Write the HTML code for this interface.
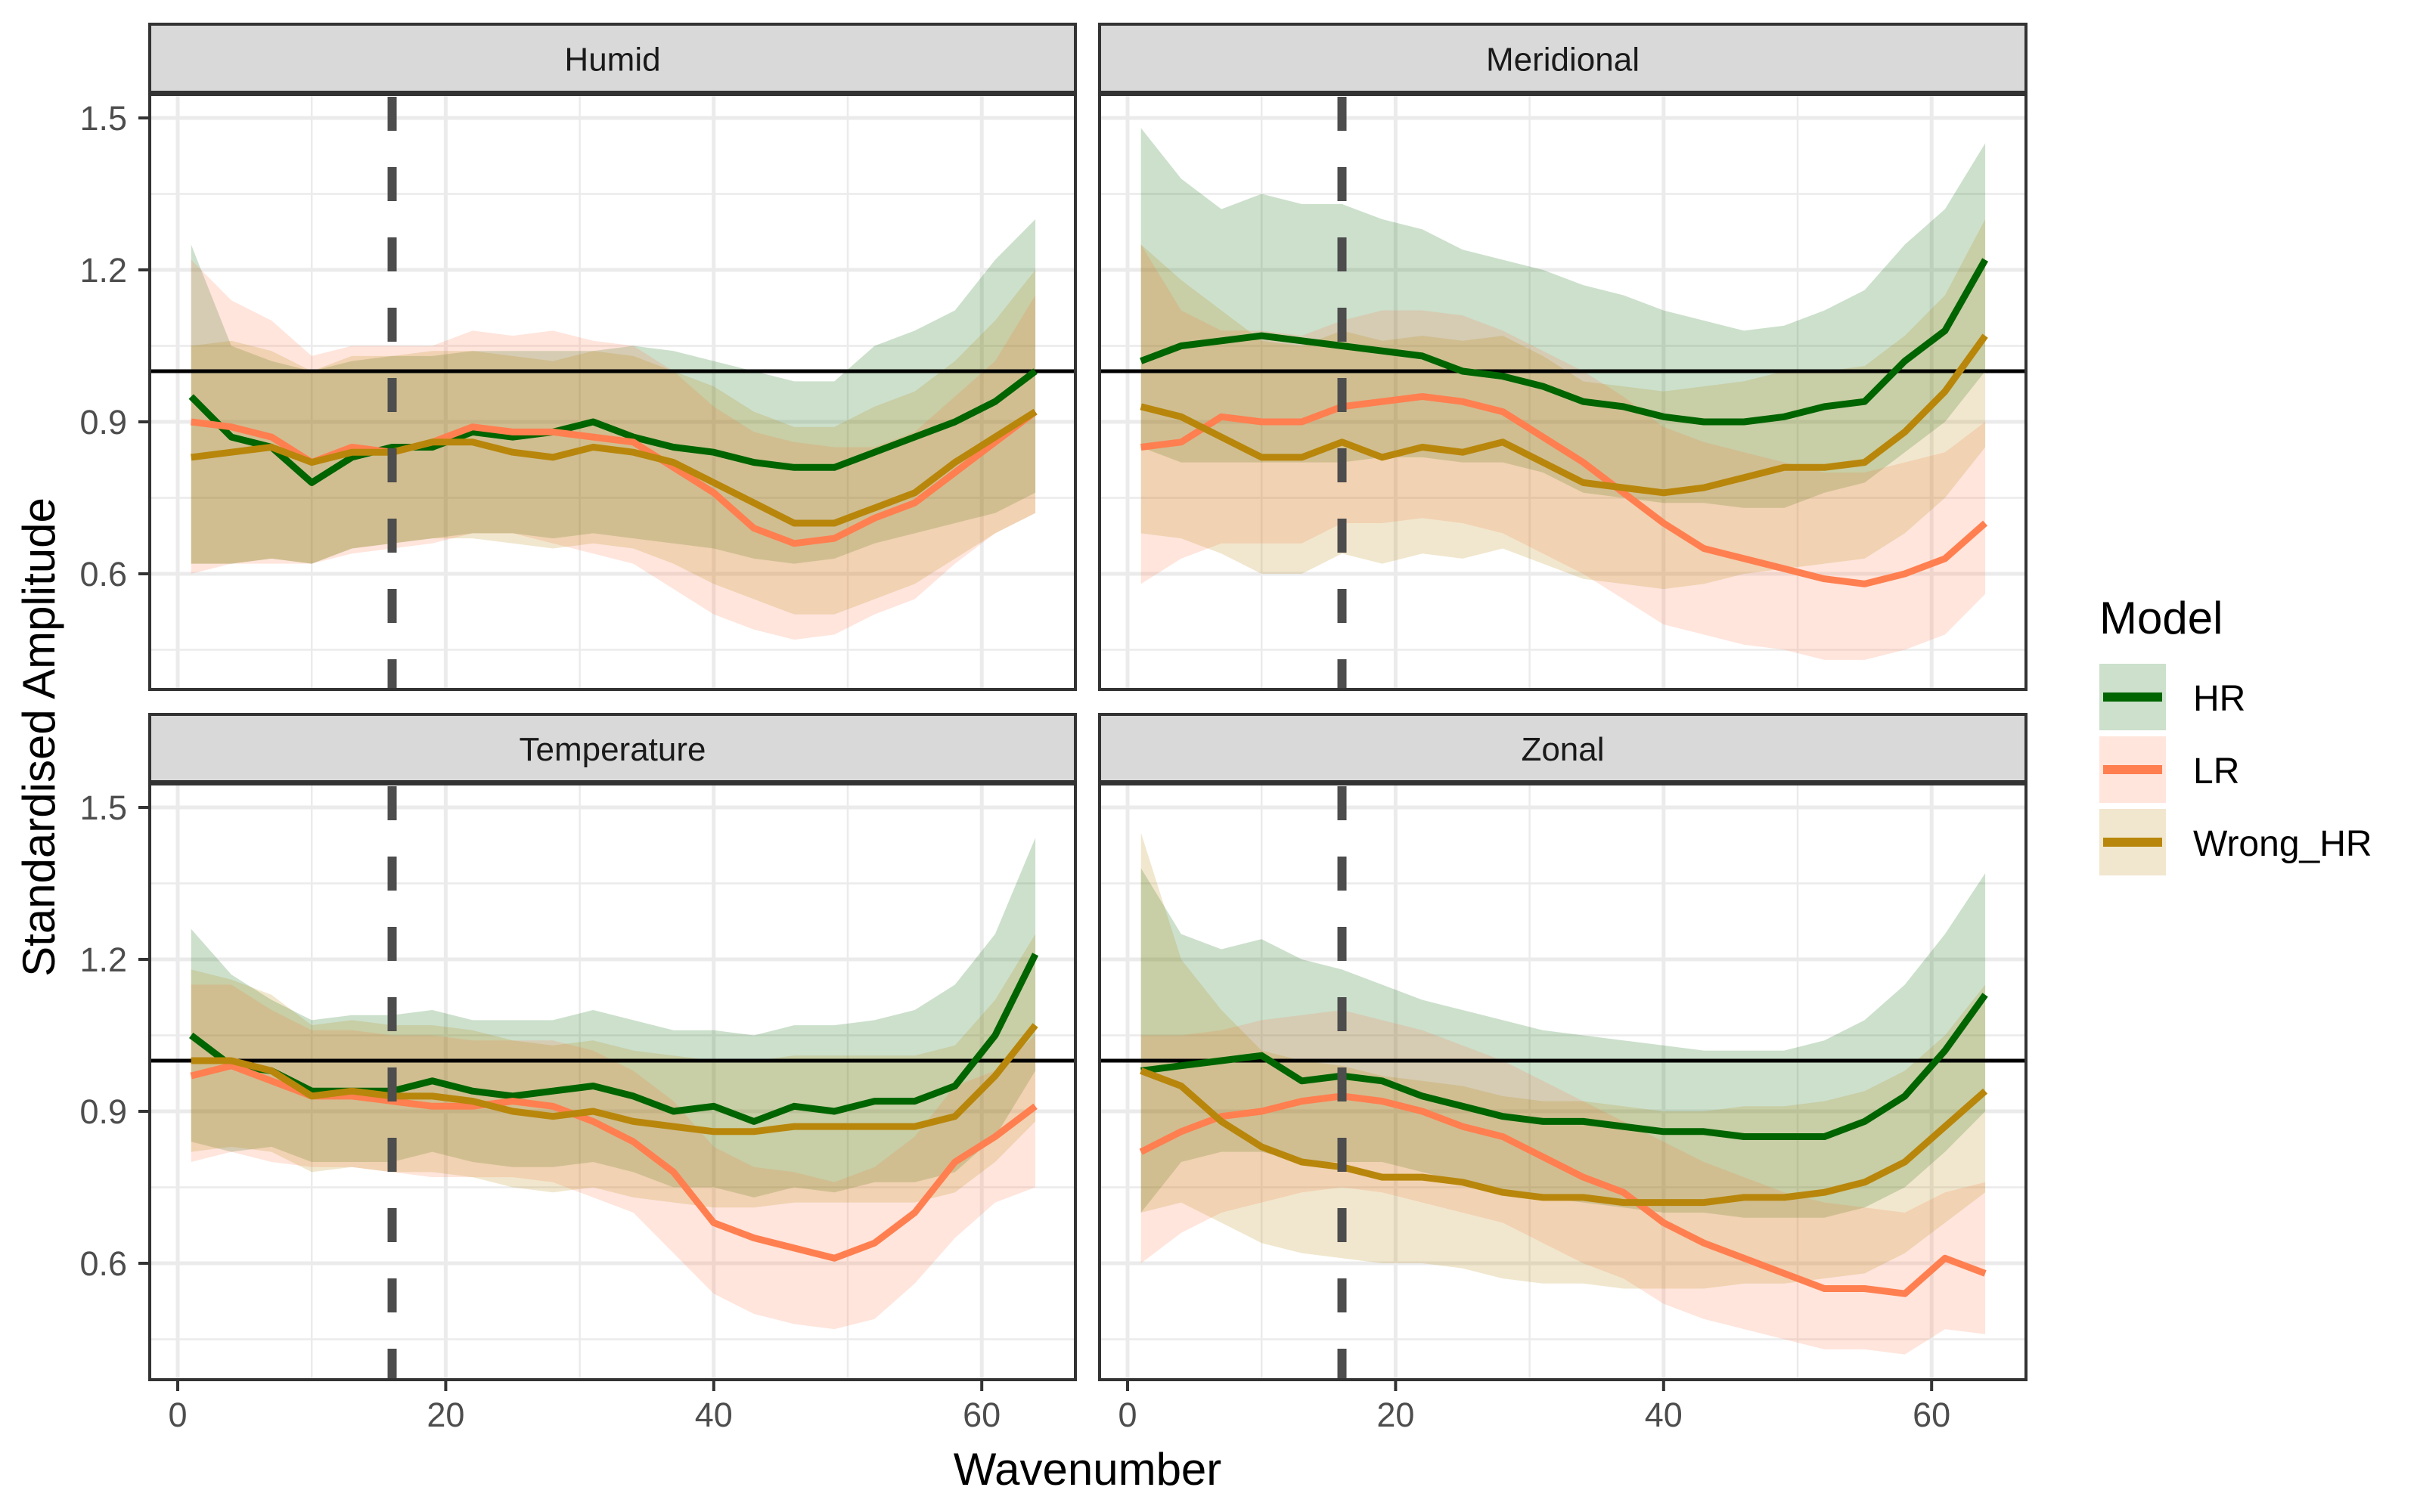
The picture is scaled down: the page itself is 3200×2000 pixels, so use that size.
<!DOCTYPE html>
<html><head><meta charset="utf-8"><style>html,body{margin:0;padding:0;background:#fff}svg{display:block}</style></head>
<body>
<svg id="chart" width="3200" height="2000" viewBox="0 0 3200 2000" xmlns="http://www.w3.org/2000/svg" font-family="Liberation Sans, sans-serif"></svg>
<script>
const waves = [1,4,7,10,13,16,19,22,25,28,31,34,37,40,43,46,49,52,55,58,61,64];
const panelNames = ["Humid","Meridional","Temperature","Zonal"];
const seriesNames = ["HR","LR","Wrong_HR"];
const yTicks = [0.6,0.9,1.2,1.5];
const yTickLabels = ["0.6","0.9","1.2","1.5"];
const xTicks = [0,20,40,60];
const xTickLabels = ["0","20","40","60"];
const cutoffWave = 16;
const refLevel = 1.0;

const humidHR = [0.95,0.87,0.85,0.78,0.83,0.85,0.85,0.88,0.87,0.88,0.90,0.87,0.85,0.84,0.82,0.81,0.81,0.84,0.87,0.90,0.94,1.00];
const humidLR = [0.90,0.89,0.87,0.82,0.85,0.84,0.86,0.89,0.88,0.88,0.87,0.86,0.81,0.76,0.69,0.66,0.67,0.71,0.74,0.80,0.86,0.92];
const humidW  = [0.83,0.84,0.85,0.82,0.84,0.84,0.86,0.86,0.84,0.83,0.85,0.84,0.82,0.78,0.74,0.70,0.70,0.73,0.76,0.82,0.87,0.92];
const humidHRhi = [1.25,1.05,1.02,1.00,1.02,1.03,1.03,1.04,1.04,1.04,1.04,1.05,1.04,1.02,1.00,0.98,0.98,1.05,1.08,1.12,1.22,1.30];
const humidHRlo = [0.62,0.62,0.63,0.62,0.65,0.66,0.67,0.68,0.68,0.67,0.68,0.67,0.66,0.65,0.63,0.62,0.63,0.66,0.68,0.70,0.72,0.76];
const humidLRhi = [1.22,1.14,1.10,1.03,1.05,1.05,1.05,1.08,1.07,1.08,1.06,1.05,1.00,0.93,0.88,0.86,0.85,0.85,0.88,0.95,1.02,1.15];
const humidLRlo = [0.60,0.62,0.62,0.62,0.64,0.65,0.66,0.68,0.68,0.66,0.64,0.62,0.57,0.52,0.49,0.47,0.48,0.52,0.55,0.62,0.68,0.72];
const humidWhi  = [1.05,1.06,1.04,1.00,1.03,1.03,1.04,1.04,1.03,1.02,1.04,1.03,1.00,0.97,0.92,0.89,0.89,0.93,0.96,1.02,1.10,1.20];
const humidWlo  = [0.62,0.62,0.63,0.62,0.65,0.66,0.67,0.67,0.66,0.65,0.66,0.65,0.62,0.58,0.55,0.52,0.52,0.55,0.58,0.63,0.68,0.72];

const merHR = [1.02,1.05,1.06,1.07,1.06,1.05,1.04,1.03,1.00,0.99,0.97,0.94,0.93,0.91,0.90,0.90,0.91,0.93,0.94,1.02,1.08,1.22];
const merLR = [0.85,0.86,0.91,0.90,0.90,0.93,0.94,0.95,0.94,0.92,0.87,0.82,0.76,0.70,0.65,0.63,0.61,0.59,0.58,0.60,0.63,0.70];
const merW  = [0.93,0.91,0.87,0.83,0.83,0.86,0.83,0.85,0.84,0.86,0.82,0.78,0.77,0.76,0.77,0.79,0.81,0.81,0.82,0.88,0.96,1.07];
const merHRhi = [1.48,1.38,1.32,1.35,1.33,1.33,1.30,1.28,1.24,1.22,1.20,1.17,1.15,1.12,1.10,1.08,1.09,1.12,1.16,1.25,1.32,1.45];
const merHRlo = [0.85,0.82,0.82,0.82,0.82,0.82,0.83,0.83,0.82,0.82,0.80,0.76,0.75,0.74,0.74,0.73,0.73,0.76,0.78,0.84,0.90,1.00];
const merLRhi = [1.25,1.12,1.08,1.08,1.07,1.10,1.12,1.12,1.11,1.08,1.04,1.00,0.95,0.89,0.86,0.84,0.82,0.80,0.80,0.82,0.84,0.90];
const merLRlo = [0.58,0.63,0.66,0.66,0.66,0.70,0.70,0.71,0.70,0.68,0.64,0.60,0.55,0.50,0.48,0.46,0.45,0.43,0.43,0.45,0.48,0.56];
const merWhi  = [1.25,1.18,1.12,1.06,1.05,1.08,1.06,1.07,1.06,1.07,1.03,0.98,0.97,0.96,0.97,0.98,1.00,1.00,1.01,1.07,1.15,1.30];
const merWlo  = [0.68,0.67,0.64,0.60,0.60,0.64,0.62,0.64,0.63,0.65,0.62,0.59,0.58,0.57,0.58,0.60,0.61,0.62,0.63,0.68,0.75,0.85];

const tempHR = [1.05,0.99,0.98,0.94,0.94,0.94,0.96,0.94,0.93,0.94,0.95,0.93,0.90,0.91,0.88,0.91,0.90,0.92,0.92,0.95,1.05,1.21];
const tempLR = [0.97,0.99,0.96,0.93,0.93,0.92,0.91,0.91,0.92,0.91,0.88,0.84,0.78,0.68,0.65,0.63,0.61,0.64,0.70,0.80,0.85,0.91];
const tempW  = [1.00,1.00,0.98,0.93,0.94,0.93,0.93,0.92,0.90,0.89,0.90,0.88,0.87,0.86,0.86,0.87,0.87,0.87,0.87,0.89,0.97,1.07];
const tempHRhi = [1.26,1.17,1.12,1.08,1.09,1.09,1.10,1.08,1.08,1.08,1.10,1.08,1.06,1.06,1.05,1.07,1.07,1.08,1.10,1.15,1.25,1.44];
const tempHRlo = [0.84,0.82,0.83,0.80,0.80,0.80,0.82,0.80,0.79,0.79,0.80,0.78,0.75,0.75,0.73,0.75,0.74,0.76,0.76,0.78,0.85,0.98];
const tempLRhi = [1.15,1.15,1.10,1.06,1.06,1.05,1.05,1.04,1.04,1.04,1.02,0.98,0.92,0.83,0.79,0.78,0.76,0.79,0.85,0.95,0.98,1.05];
const tempLRlo = [0.80,0.82,0.80,0.79,0.79,0.78,0.77,0.77,0.77,0.76,0.73,0.70,0.62,0.54,0.50,0.48,0.47,0.49,0.56,0.65,0.72,0.75];
const tempWhi  = [1.18,1.16,1.13,1.07,1.08,1.07,1.07,1.06,1.04,1.03,1.04,1.02,1.01,1.00,1.00,1.01,1.01,1.01,1.01,1.03,1.12,1.25];
const tempWlo  = [0.82,0.83,0.82,0.78,0.79,0.78,0.78,0.77,0.75,0.74,0.75,0.73,0.72,0.71,0.71,0.72,0.72,0.72,0.72,0.74,0.80,0.88];

const zonHR = [0.98,0.99,1.00,1.01,0.96,0.97,0.96,0.93,0.91,0.89,0.88,0.88,0.87,0.86,0.86,0.85,0.85,0.85,0.88,0.93,1.02,1.13];
const zonLR = [0.82,0.86,0.89,0.90,0.92,0.93,0.92,0.90,0.87,0.85,0.81,0.77,0.74,0.68,0.64,0.61,0.58,0.55,0.55,0.54,0.61,0.58];
const zonW  = [0.98,0.95,0.88,0.83,0.80,0.79,0.77,0.77,0.76,0.74,0.73,0.73,0.72,0.72,0.72,0.73,0.73,0.74,0.76,0.80,0.87,0.94];
const zonHRhi = [1.38,1.25,1.22,1.24,1.20,1.18,1.15,1.12,1.10,1.08,1.06,1.05,1.04,1.03,1.02,1.02,1.02,1.04,1.08,1.15,1.25,1.37];
const zonHRlo = [0.70,0.80,0.82,0.82,0.80,0.80,0.80,0.78,0.76,0.74,0.73,0.72,0.71,0.70,0.70,0.69,0.69,0.69,0.71,0.75,0.82,0.90];
const zonLRhi = [1.05,1.05,1.06,1.08,1.09,1.10,1.08,1.06,1.03,1.00,0.96,0.92,0.88,0.84,0.80,0.77,0.74,0.72,0.71,0.70,0.74,0.76];
const zonLRlo = [0.60,0.66,0.70,0.72,0.74,0.75,0.74,0.72,0.70,0.68,0.64,0.60,0.57,0.52,0.49,0.47,0.45,0.43,0.43,0.42,0.47,0.46];
const zonWhi  = [1.45,1.20,1.10,1.02,1.00,0.99,0.97,0.96,0.95,0.93,0.92,0.92,0.91,0.90,0.90,0.91,0.91,0.92,0.94,0.98,1.05,1.15];
const zonWlo  = [0.70,0.72,0.68,0.64,0.62,0.61,0.60,0.60,0.59,0.57,0.56,0.56,0.55,0.55,0.55,0.56,0.56,0.57,0.58,0.62,0.68,0.74];

const panelData = [
  {mean:[humidHR,humidLR,humidW], hi:[humidHRhi,humidLRhi,humidWhi], lo:[humidHRlo,humidLRlo,humidWlo]},
  {mean:[merHR,merLR,merW], hi:[merHRhi,merLRhi,merWhi], lo:[merHRlo,merLRlo,merWlo]},
  {mean:[tempHR,tempLR,tempW], hi:[tempHRhi,tempLRhi,tempWhi], lo:[tempHRlo,tempLRlo,tempWlo]},
  {mean:[zonHR,zonLR,zonW], hi:[zonHRhi,zonLRhi,zonWhi], lo:[zonHRlo,zonLRlo,zonWlo]}
];
const lineColors = ["#006400","#FF7F50","#B8860B"];

const NS = "http://www.w3.org/2000/svg";
const svg = document.getElementById("chart");
function mk(tag, attrs, parent){
  const e = document.createElementNS(NS, tag);
  for (const k in attrs) e.setAttribute(k, attrs[k]);
  (parent||svg).appendChild(e);
  return e;
}
const panels = [
  {left:198, right:1422, top:125, bottom:912, stripTop:32},
  {left:1454, right:2679, top:125, bottom:912, stripTop:32},
  {left:198, right:1422, top:1037, bottom:1825, stripTop:945},
  {left:1454, right:2679, top:1037, bottom:1825, stripTop:945}
];
panels.forEach((p, pi) => {
  const x0 = p.left + 37;
  const xs = v => x0 + v * 17.72;
  const ys = v => p.top + 31 + (1.5 - v) * 670;
  const g = mk("g", {});
  
  
  [0.75,1.05,1.35,0.45].forEach(v => {
    const l = mk("line", {x1:p.left, x2:p.right, y1:ys(v), y2:ys(v), stroke:"#ebebeb", "stroke-width":2.5}, g);
    
    
  });
  [10,30,50].forEach(v => {
    const l = mk("line", {x1:xs(v), x2:xs(v), y1:p.top, y2:p.bottom, stroke:"#ebebeb", "stroke-width":2.5}, g);
    
    
  });
  yTicks.forEach(v => {
    const l = mk("line", {x1:p.left, x2:p.right, y1:ys(v), y2:ys(v), stroke:"#ebebeb", "stroke-width":5}, g);
    
    
  });
  xTicks.forEach(v => {
    const l = mk("line", {x1:xs(v), x2:xs(v), y1:p.top, y2:p.bottom, stroke:"#ebebeb", "stroke-width":5}, g);
    
    
  });
  const d = panelData[pi];
  for (let s = 0; s < 3; s++) {
    let pts = waves.map((w,i) => xs(w)+","+ys(d.hi[s][i]));
    for (let i = waves.length-1; i >= 0; i--) pts.push(xs(waves[i])+","+ys(d.lo[s][i]));
    const r = mk("polygon", {points:pts.join(" "), fill:lineColors[s], "fill-opacity":0.2}, g);
    
    
  }
  const h = mk("line", {x1:p.left, x2:p.right, y1:ys(refLevel), y2:ys(refLevel), stroke:"#000", "stroke-width":5}, g);
  
  
  for (let s = 0; s < 3; s++) {
    const pts = waves.map((w,i) => xs(w)+","+ys(d.mean[s][i])).join(" ");
    const l = mk("polyline", {points:pts, fill:"none", stroke:lineColors[s], "stroke-width":9, "stroke-linejoin":"round"}, g);
    
    
  }
  const dl = mk("line", {x1:xs(cutoffWave), x2:xs(cutoffWave), y1:p.top, y2:p.bottom, stroke:"#4d4d4d", "stroke-width":12, "stroke-dasharray":"45 48", "stroke-dashoffset":"-3"}, g);
  
  
  const b = mk("rect", {x:p.left, y:p.top, width:p.right-p.left, height:p.bottom-p.top, fill:"none", stroke:"#333", "stroke-width":4}, g);
  
  
  const st = mk("rect", {x:p.left, y:p.stripTop, width:p.right-p.left, height:p.top-p.stripTop-3, fill:"#d9d9d9", stroke:"#333", "stroke-width":4}, g);
  
  
  const stt = mk("text", {x:(p.left+p.right)/2, y:(p.stripTop+p.top)/2+15, "text-anchor":"middle", "font-size":44, fill:"#1a1a1a"}, g);
  stt.textContent = panelNames[pi];
  
  
  if (pi % 2 === 0) {
    yTicks.forEach((v,i) => {
      const t = mk("line", {x1:p.left-15, x2:p.left, y1:ys(v), y2:ys(v), stroke:"#333", "stroke-width":4}, g);
      
      
      const tl = mk("text", {x:p.left-30, y:ys(v)+16, "text-anchor":"end", "font-size":45, fill:"#4d4d4d"}, g);
      tl.textContent = yTickLabels[i];
      
      
    });
  }
  if (pi >= 2) {
    xTicks.forEach((v,i) => {
      const t = mk("line", {x1:xs(v), x2:xs(v), y1:p.bottom, y2:p.bottom+15, stroke:"#333", "stroke-width":4}, g);
      
      
      const tl = mk("text", {x:xs(v), y:1887, "text-anchor":"middle", "font-size":45, fill:"#4d4d4d"}, g);
      tl.textContent = xTickLabels[i];
      
      
    });
  }
});
const xt = mk("text", {x:1438, y:1964, "text-anchor":"middle", "font-size":60, fill:"#000"});
xt.textContent = "Wavenumber";


const yt = mk("text", {x:0, y:0, "text-anchor":"middle", "font-size":60, fill:"#000", transform:"translate(72,975) rotate(-90)"});
yt.textContent = "Standardised Amplitude";


const lg = mk("g", {});


const lt = mk("text", {x:2776, y:838, "font-size":60, fill:"#000"}, lg);
lt.textContent = "Model";


seriesNames.forEach((n, s) => {
  const y = 878 + s*96;
  const e = mk("g", {}, lg);
  
  
  mk("rect", {x:2776, y:y, width:88, height:88, fill:lineColors[s], "fill-opacity":0.2}, e);
  mk("line", {x1:2781, x2:2859, y1:y+44, y2:y+44, stroke:lineColors[s], "stroke-width":12}, e);
  const t = mk("text", {x:2900, y:y+62, "font-size":48, fill:"#000"}, e);
  t.textContent = n;
});
</script>
</body></html>
